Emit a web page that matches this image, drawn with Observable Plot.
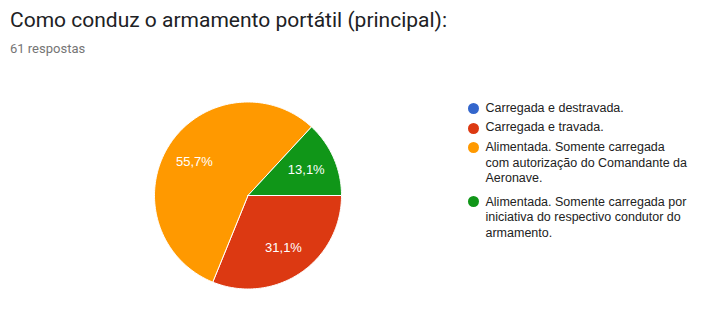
<!DOCTYPE html>
<html>
<head>
<meta charset="utf-8">
<script src="https://cdn.jsdelivr.net/npm/d3@7"></script>
<script src="https://cdn.jsdelivr.net/npm/@observablehq/plot@0.6"></script>
<style>
  html, body { margin: 0; padding: 0; background: #fff; }
  body { width: 703px; height: 321px; position: relative; overflow: hidden; }
  #title { position: absolute; left: 10px; top: 9.6px; font: 21px/21px Roboto, sans-serif; color: #202124; white-space: nowrap; }
  #subtitle { position: absolute; left: 10px; top: 41.8px; font: 13px/13px Roboto, sans-serif; color: #757575; white-space: nowrap; }
  #chart { position: absolute; left: 0; top: 60px; }
  .lg-dot { position: absolute; width: 11px; height: 11px; border-radius: 50%; }
  .lg-text { position: absolute; left: 485.5px; font: 12.5px/15.5px "Liberation Sans", Arial, sans-serif; color: #222; white-space: nowrap; }
</style>
</head>
<body>
<div id="title">Como conduz o armamento portátil (principal):</div>
<div id="subtitle">61 respostas</div>
<div id="chart"></div>
<div id="legend"></div>
<script>
const categories = [
  "Carregada e destravada.",
  "Carregada e travada.",
  "Alimentada. Somente carregada com autorização do Comandante da Aeronave.",
  "Alimentada. Somente carregada por iniciativa do respectivo condutor do armamento."
];
const legendLines = [
  ["Carregada e destravada."],
  ["Carregada e travada."],
  ["Alimentada. Somente carregada", "com autorização do Comandante da", "Aeronave."],
  ["Alimentada. Somente carregada por", "iniciativa do respectivo condutor do", "armamento."]
];
const counts = [0, 19, 34, 8];
const colors = ["#3366cc", "#dc3912", "#ff9900", "#109618"];

const total = d3.sum(counts);
const startAngle = Math.PI / 2; // slices start at 3 o'clock, clockwise

// build slice polygons (data space: unit circle)
const slicePts = [];
const labels = [];
let acc = 0;
categories.forEach((c, i) => {
  const v = counts[i];
  if (v <= 0) return;
  const a0 = startAngle + (acc / total) * 2 * Math.PI;
  const a1 = startAngle + ((acc + v) / total) * 2 * Math.PI;
  acc += v;
  const n = Math.max(2, Math.ceil((a1 - a0) / (Math.PI / 180)));
  slicePts.push({slice: c, x: 0, y: 0});
  for (let k = 0; k <= n; k++) {
    const a = a0 + (a1 - a0) * k / n;
    slicePts.push({slice: c, x: Math.sin(a), y: Math.cos(a)});
  }
  slicePts.push({slice: c, x: 0, y: 0});
  const am = (a0 + a1) / 2;
  const pct = (v / total * 100).toFixed(1).replace(".", ",") + "%";
  labels.push({slice: c, x: 0.68 * Math.sin(am), y: 0.68 * Math.cos(am), label: pct});
});

const cx = 247.5, cy = 195 - 60, r = 93.5;
const plot = Plot.plot({
  width: 703,
  height: 261,
  margin: 0,
  x: {domain: [-1, 1], range: [cx - r, cx + r], axis: null},
  y: {domain: [-1, 1], range: [cy + r, cy - r], axis: null},
  color: {domain: categories, range: colors},
  style: {background: "white", overflow: "visible"},
  marks: [
    Plot.line(slicePts, {x: "x", y: "y", z: "slice", fill: "slice", stroke: "white", strokeWidth: 1, strokeLinejoin: "round", curve: "linear"}),
    Plot.text(labels, {x: "x", y: "y", text: "label", fill: "white", fontSize: 13, fontFamily: "'Liberation Sans', Arial, sans-serif", textAnchor: "middle", lineAnchor: "middle"})
  ]
});
document.getElementById("chart").appendChild(plot);

// legend
const dotY = [108.3, 128.3, 147.7, 201.7];
const textTop = [101.3, 120.3, 140.0, 194.5];
const legend = document.getElementById("legend");
categories.forEach((c, i) => {
  const dot = document.createElement("div");
  dot.className = "lg-dot";
  dot.style.background = colors[i];
  dot.style.left = (473.3 - 5.5) + "px";
  dot.style.top = (dotY[i] - 5.5) + "px";
  legend.appendChild(dot);
  const t = document.createElement("div");
  t.className = "lg-text";
  t.style.top = textTop[i] + "px";
  t.innerHTML = legendLines[i].join("<br>");
  t.title = c;
  legend.appendChild(t);
});
</script>
</body>
</html>
